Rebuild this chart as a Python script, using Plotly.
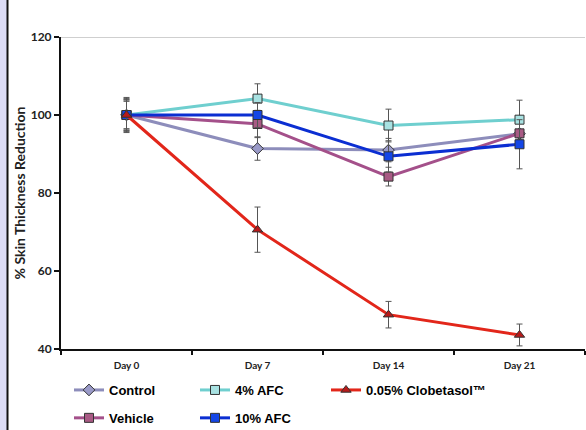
import plotly.graph_objects as go

days = ["Day 0", "Day 7", "Day 14", "Day 21"]

control = [100, 91.4, 91.0, 95.2]
control_err = [4.5, 3.0, 3.0, 3.5]
afc4 = [100, 104.2, 97.3, 98.8]
afc4_err = [4.2, 3.8, 4.2, 5.0]
clob = [100, 70.6, 48.8, 43.6]
clob_err = [4.0, 5.8, 3.4, 2.8]
vehicle = [100, 97.7, 84.2, 95.3]
vehicle_err = [3.5, 3.5, 2.4, 3.0]
afc10 = [100, 100.0, 89.4, 92.5]
afc10_err = [3.8, 3.2, 4.0, 6.3]

series = [
    ("Control", control, control_err, "#8D8DBB", "#9A9AC8", "diamond", "legend"),
    ("Vehicle", vehicle, vehicle_err, "#A4508A", "#A85A84", "square", "legend"),
    ("4% AFC", afc4, afc4_err, "#6FCFCF", "#A8E2E2", "square", "legend2"),
    ("10% AFC", afc10, afc10_err, "#0B2ED2", "#1446E6", "square", "legend2"),
    ("0.05% Clobetasol™", clob, clob_err, "#E2261A", "#B81A1A", "triangle-up", "legend3"),
]

fig = go.Figure()
for name, vals, err, lc, mc, sym, lg in series:
    fig.add_trace(go.Scatter(
        x=days, y=vals, name="<b>" + name + "</b>", mode="lines+markers",
        line=dict(color=lc, width=3),
        marker=dict(symbol=sym, size=9, color=mc, line=dict(color="#333333", width=1)),
        error_y=dict(type="data", array=err, visible=True, color="#555555", thickness=1, width=3),
        legend=lg, legendgroup=name,
    ))

W = 524.0
H = 312.0
shapes = [
    dict(type="rect", xref="paper", yref="paper", x0=-62 / W, x1=-54 / W, y0=-82 / H, y1=1 + 38 / H,
         fillcolor="#DCDCF6", line=dict(width=0), layer="above"),
    dict(type="line", xref="paper", yref="paper", x0=-53.5 / W, x1=-53.5 / W, y0=-82 / H, y1=1 + 38 / H,
         line=dict(color="#111111", width=2), layer="above"),
    dict(type="line", xref="paper", yref="y", x0=0, x1=1, y0=120, y1=120,
         line=dict(color="#CFCFCF", width=2), layer="below"),
]

legfont = dict(family="Liberation Sans, Arial, sans-serif", size=13, color="#000000")
common_leg = dict(orientation="v", yanchor="top", xanchor="left", font=legfont,
                  bgcolor="rgba(0,0,0,0)", itemwidth=30, traceorder="grouped", tracegroupgap=8)
fig.update_layout(
    width=586, height=430,
    margin=dict(l=61, r=1, t=37, b=81, autoexpand=False),
    paper_bgcolor="white", plot_bgcolor="white",
    shapes=shapes,
    showlegend=True,
    legend=dict(common_leg, x=8 / W, y=-26 / H),
    legend2=dict(common_leg, x=134 / W, y=-26 / H),
    legend3=dict(common_leg, x=265 / W, y=-26 / H),
    xaxis=dict(range=[-0.5, 3.5], showgrid=False, showline=True, linecolor="#111111", linewidth=2,
               ticks="outside", ticklen=4, tickwidth=2, tickcolor="#111111", tickson="boundaries",
               tickfont=dict(family="Lato, sans-serif", size=10, color="#222222"), zeroline=False,
               ticklabelstandoff=6, automargin=False),
    yaxis=dict(range=[40, 120], dtick=20, showgrid=False, showline=True, linecolor="#111111", linewidth=2,
               ticks="outside", ticklen=5, tickwidth=2, tickcolor="#111111", zeroline=False,
               tickfont=dict(family="Lato, sans-serif", size=12, color="#222222"),
               ticklabelstandoff=0, automargin=False,
               title=dict(text="<b>% Skin Thickness Reduction</b>", standoff=2,
                          font=dict(family="Lato, sans-serif", size=14, color="#222222"))),
)
fig.update_xaxes(tickprefix="<b>", ticksuffix="</b>")
fig.update_yaxes(tickprefix="<b>", ticksuffix="</b>")

fig.write_html("out.html", config={"displayModeBar": False},
               post_script="document.body.style.margin='0';")
